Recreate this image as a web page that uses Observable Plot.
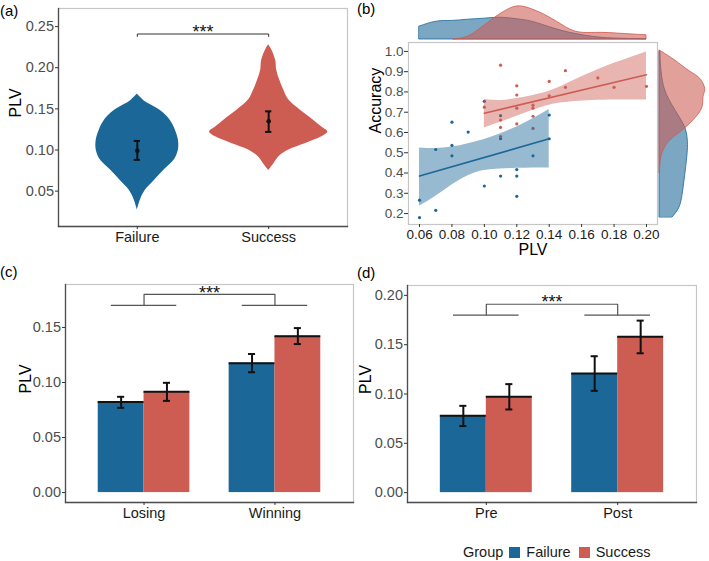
<!DOCTYPE html>
<html><head><meta charset="utf-8">
<script src="https://cdn.jsdelivr.net/npm/d3@7"></script>
<script src="https://cdn.jsdelivr.net/npm/@observablehq/plot@0.6"></script>
<style>
body{margin:0;background:#fff;font-family:"Liberation Sans",Arial,Helvetica,sans-serif;}
#root{position:relative;width:709px;height:561px;overflow:hidden;background:#fff;}
.tag{position:absolute;font-size:15px;line-height:15px;color:#000;}
.legend{position:absolute;display:flex;align-items:center;font-size:14.5px;color:#1a1a1a;line-height:15px;}
.sw{display:inline-block;width:11px;height:11px;margin:0 6px 0 8px;}
</style></head><body><div id="root"></div>
<script>
// ---------------- data ----------------
const groups = ["Failure", "Success"];
const groupColors = ["#1b6798", "#cd5c53"];

// (a) violins: PLV value and relative density (half-width)
const violinFailurePLV = [0.027, 0.039, 0.051, 0.063, 0.076, 0.088, 0.100, 0.112, 0.124, 0.136, 0.148, 0.160, 0.168];
const violinFailureDensity = [0, 3, 8, 17, 27, 37, 41, 41, 38, 33, 23, 6.7, 0];
const violinSuccessPLV = [0.075, 0.083, 0.0915, 0.100, 0.108, 0.116, 0.122, 0.128, 0.136, 0.148, 0.161, 0.173, 0.185, 0.197, 0.209, 0.222, 0.228];
const violinSuccessDensity = [0, 5, 10, 20, 37, 53, 59, 53, 45, 32, 20, 15, 11, 8, 7, 3, 0];
const aMean = [0.099, 0.135];
const aLow = [0.088, 0.122];
const aHigh = [0.111, 0.147];
const aBracketY = [0.238, 0.241];
const aStarY = 0.2433;

// (b) scatter
const bFailureX = [0.06, 0.06, 0.07, 0.07, 0.08, 0.08, 0.08, 0.09, 0.10, 0.10, 0.11, 0.11, 0.11, 0.12, 0.12, 0.12, 0.13, 0.14, 0.14];
const bFailureY = [0.266, 0.18, 0.216, 0.516, 0.651, 0.536, 0.485, 0.602, 0.754, 0.336, 0.683, 0.569, 0.385, 0.417, 0.385, 0.285, 0.485, 0.686, 0.569];
const bSuccessX = [0.10, 0.11, 0.11, 0.11, 0.11, 0.12, 0.12, 0.12, 0.12, 0.13, 0.13, 0.13, 0.13, 0.14, 0.14, 0.15, 0.15, 0.17, 0.18, 0.20];
const bSuccessY = [0.725, 0.932, 0.661, 0.625, 0.580, 0.83, 0.785, 0.72, 0.642, 0.735, 0.72, 0.68, 0.62, 0.852, 0.781, 0.905, 0.823, 0.869, 0.823, 0.828];
const bFitFailureX = [0.06, 0.14], bFitFailureY = [0.385, 0.569];
const bFitSuccessX = [0.10, 0.20], bFitSuccessY = [0.695, 0.885];
const bBandFailureX = [0.06, 0.07, 0.08, 0.09, 0.10, 0.11, 0.12, 0.13, 0.14];
const bBandFailureLo = [0.236, 0.285, 0.341, 0.387, 0.412, 0.420, 0.423, 0.425, 0.425];
const bBandFailureHi = [0.524, 0.521, 0.528, 0.545, 0.566, 0.594, 0.627, 0.668, 0.714];
const bBandSuccessX = [0.10, 0.11, 0.12, 0.13, 0.14, 0.15, 0.17, 0.20];
const bBandSuccessLo = [0.622, 0.65, 0.68, 0.71, 0.735, 0.748, 0.759, 0.76];
const bBandSuccessHi = [0.763, 0.758, 0.768, 0.783, 0.804, 0.837, 0.91, 0.997];
// top marginal density (PLV)
const mTopFailureX = [0.06, 0.0706, 0.08, 0.09, 0.10, 0.11, 0.12, 0.13, 0.143, 0.155, 0.167, 0.18, 0.20];
const mTopFailureD = [13, 18, 18.7, 20, 21, 22, 20.5, 17.7, 11, 6, 2.7, 1, 0.3];
const mTopSuccessX = [0.081, 0.0896, 0.0976, 0.1058, 0.112, 0.120, 0.1285, 0.1367, 0.145, 0.153, 0.161, 0.1717, 0.182, 0.192, 0.20];
const mTopSuccessD = [0, 2.7, 11, 21, 27.7, 33.3, 31, 25.3, 17.7, 10, 6.7, 6.7, 6, 5, 4.3];
// right marginal density (Accuracy)
const mRightFailureY = [0.182, 0.22, 0.27, 0.35, 0.43, 0.51, 0.56, 0.61, 0.66, 0.725, 0.807, 0.89, 0.95, 1.0];
const mRightFailureD = [13.3, 19, 22.3, 24.7, 26.7, 28.3, 28.3, 26.7, 22, 14, 5.7, 2.3, 1.2, 1];
const mRightSuccessY = [0.40, 0.46, 0.51, 0.56, 0.60, 0.635, 0.676, 0.725, 0.774, 0.807, 0.84, 0.873, 0.906, 0.955, 1.005];
const mRightSuccessD = [0.3, 1.3, 4, 10.7, 20.7, 29, 37, 43, 44, 45.7, 44, 39, 29, 15.7, 0];

// (c) bars
const cCategories = ["Losing", "Winning"];
const cFailureMean = [0.0822, 0.1175], cFailureLo = [0.077, 0.1093], cFailureHi = [0.087, 0.1259];
const cSuccessMean = [0.0915, 0.1421], cSuccessLo = [0.0833, 0.1349], cSuccessHi = [0.0997, 0.1494];
const cBracketY = [0.170, 0.180];
const cStarY = 0.1815;

// (d) bars
const dCategories = ["Pre", "Post"];
const dFailureMean = [0.0779, 0.1208], dFailureLo = [0.0675, 0.1032], dFailureHi = [0.088, 0.1383];
const dSuccessMean = [0.0971, 0.1581], dSuccessLo = [0.0843, 0.1413], dSuccessHi = [0.110, 0.1744];
const dBracketY = [0.180, 0.191];
const dStarY = 0.193;

// ---------------- helpers ----------------
const root = document.getElementById("root");
const FONT = '"Liberation Sans", Arial, Helvetica, sans-serif';
const svgStyle = `background:transparent;font-family:${FONT};overflow:visible;`;
const colorScale = {domain: groups, range: groupColors};
function place(el, left, top) {
  el.style.position = "absolute";
  el.style.left = left + "px";
  el.style.top = top + "px";
  root.appendChild(el);
}
function tag(text, left, top) {
  const d = document.createElement("div");
  d.className = "tag"; d.textContent = text;
  d.style.left = left + "px"; d.style.top = top + "px";
  root.appendChild(d);
}
const zip = (xs, ys, kx, ky, extra) => xs.map((v, i) => ({[kx]: v, [ky]: ys[i], ...extra}));
function frames(lightAll) {
  const m = [Plot.frame({stroke: "#c6c6c6", strokeWidth: 1.2})];
  if (!lightAll) {
    m.push(Plot.frame({anchor: "left", stroke: "#4d4d4d", strokeWidth: 1.3}));
    m.push(Plot.frame({anchor: "bottom", stroke: "#4d4d4d", strokeWidth: 1.3}));
  }
  return m;
}
function yTitle(text, dx, size = 16) {
  return Plot.text([text], {text: d => d, frameAnchor: "left", lineAnchor: "middle", rotate: -90, dx, fontSize: size, fill: "#000"});
}
function catAxis(cats) {
  return Plot.axisX(cats.map((c, i) => i + 1), {tickFormat: i => cats[i - 1], tickSize: 3, tickPadding: 2, fontSize: 14.5, fill: "#1a1a1a", stroke: "#333", label: null});
}
function numAxisY(ticks, dec, size = 14.5, tickSize = 3) {
  return Plot.axisY(ticks, {tickFormat: d3.format(`.${dec}f`), tickSize, tickPadding: 1.5, fontSize: size, fill: "#4d4d4d", stroke: "#333", label: null});
}

// ---------------- (a) violin ----------------
{
  const maxD = d3.max([...violinFailureDensity, ...violinSuccessDensity]);
  const k = 0.45 / maxD;
  const vio = [
    ...zip(violinFailurePLV, violinFailureDensity, "y", "d", {group: "Failure", pos: 1}),
    ...zip(violinSuccessPLV, violinSuccessDensity, "y", "d", {group: "Success", pos: 2})
  ];
  const summ = groups.map((g, i) => ({group: g, pos: i + 1, mean: aMean[i], lo: aLow[i], hi: aHigh[i]}));
  const cap = 0.024;
  const p = Plot.plot({
    width: 355, height: 262, marginLeft: 58, marginRight: 8, marginTop: 8, marginBottom: 36,
    style: svgStyle,
    x: {type: "linear", domain: [0.4, 2.6]},
    y: {domain: [0.007, 0.272]},
    color: colorScale,
    marks: [
      ...frames(false),
      Plot.areaX(vio, {y: "y", x1: d => d.pos - d.d * k, x2: d => d.pos + d.d * k, z: "group", fill: "group", curve: "catmull-rom"}),
      Plot.ruleX(summ, {x: "pos", y1: "lo", y2: "hi", stroke: "#111", strokeWidth: 2}),
      Plot.ruleY(summ, {y: "lo", x1: d => d.pos - cap, x2: d => d.pos + cap, stroke: "#111", strokeWidth: 2}),
      Plot.ruleY(summ, {y: "hi", x1: d => d.pos - cap, x2: d => d.pos + cap, stroke: "#111", strokeWidth: 2}),
      Plot.dot(summ, {x: "pos", y: "mean", r: 2.3, fill: "#111"}),
      Plot.line([{x: 1, y: aBracketY[0]}, {x: 1, y: aBracketY[1]}, {x: 2, y: aBracketY[1]}, {x: 2, y: aBracketY[0]}], {x: "x", y: "y", stroke: "#333", strokeWidth: 1}),
      Plot.text(["***"], {text: d => d, x: 1.5, y: aStarY, fontSize: 18, fill: "#111"}),
      numAxisY([0.05, 0.10, 0.15, 0.20, 0.25], 2),
      catAxis(groups),
      yTitle("PLV", -43)
    ]
  });
  place(p, 0, 0);
}

// ---------------- (b) scatter with marginals ----------------
const bxDomain = [0.0532, 0.2068], byDomain = [0.146, 1.044];
{
  const pts = [
    ...zip(bFailureX, bFailureY, "x", "y", {group: "Failure"}),
    ...zip(bSuccessX, bSuccessY, "x", "y", {group: "Success"})
  ];
  const bands = [
    ...bBandFailureX.map((x, i) => ({x, lo: bBandFailureLo[i], hi: bBandFailureHi[i], group: "Failure"})),
    ...bBandSuccessX.map((x, i) => ({x, lo: bBandSuccessLo[i], hi: bBandSuccessHi[i], group: "Success"}))
  ];
  const fits = [
    ...zip(bFitFailureX, bFitFailureY, "x", "y", {group: "Failure"}),
    ...zip(bFitSuccessX, bFitSuccessY, "x", "y", {group: "Success"})
  ];
  const p = Plot.plot({
    width: 354, height: 262, marginLeft: 53, marginRight: 52, marginTop: 42, marginBottom: 38,
    style: svgStyle,
    x: {domain: bxDomain},
    y: {domain: byDomain},
    color: colorScale,
    marks: [
      Plot.frame({stroke: "#c6c6c6", strokeWidth: 1.2}),
      Plot.dot(pts, {x: "x", y: "y", fill: "group", r: 1.6}),
      Plot.areaY(bands, {x: "x", y1: "lo", y2: "hi", z: "group", fill: "group", fillOpacity: 0.45, curve: "natural"}),
      Plot.line(fits, {x: "x", y: "y", z: "group", stroke: "group", strokeWidth: 1.6}),
      Plot.axisY([0.2, 0.3, 0.4, 0.5, 0.6, 0.7, 0.8, 0.9, 1.0], {tickFormat: d3.format(".1f"), tickSize: 4, tickPadding: 1, fontSize: 13.5, fill: "#4d4d4d", stroke: "#333", label: null}),
      Plot.axisX([0.06, 0.08, 0.10, 0.12, 0.14, 0.16, 0.18, 0.20], {tickFormat: d3.format(".2f"), tickSize: 3, tickPadding: 2, fontSize: 13.5, fill: "#1a1a1a", stroke: "#333", label: null}),
      yTitle("Accuracy", -33, 16),
      Plot.text(["PLV"], {text: d => d, frameAnchor: "bottom", lineAnchor: "middle", dy: 25, fontSize: 16, fill: "#000"})
    ]
  });
  place(p, 355, 0);

  const top = [
    ...zip(mTopFailureX, mTopFailureD, "x", "d", {group: "Failure"}),
    ...zip(mTopSuccessX, mTopSuccessD, "x", "d", {group: "Success"})
  ];
  const pt = Plot.plot({
    width: 249, height: 40, marginLeft: 0, marginRight: 0, marginTop: 6, marginBottom: 1,
    style: svgStyle,
    x: {domain: bxDomain, axis: null},
    y: {domain: [0, 33.3], axis: null},
    color: colorScale,
    marks: [
      Plot.areaY(top, {x: "x", y1: 0, y2: "d", z: "group", fill: "group", fillOpacity: 0.58, stroke: "group", strokeWidth: 0.8, curve: "natural"})
    ]
  });
  place(pt, 408, 0);

  const right = [
    ...zip(mRightFailureY, mRightFailureD, "y", "d", {group: "Failure"}),
    ...zip(mRightSuccessY, mRightSuccessD, "y", "d", {group: "Success"})
  ];
  const pr = Plot.plot({
    width: 50, height: 182, marginLeft: 0, marginRight: 4, marginTop: 0, marginBottom: 0,
    style: svgStyle,
    x: {domain: [0, 46], axis: null},
    y: {domain: byDomain, axis: null},
    color: colorScale,
    marks: [
      Plot.areaX(right, {y: "y", x1: 0, x2: "d", z: "group", fill: "group", fillOpacity: 0.58, stroke: "group", strokeWidth: 0.8, curve: "natural"})
    ]
  });
  place(pr, 659, 42);
}

// ---------------- (c) & (d) bars ----------------
function barPanel(cats, fM, fL, fH, sM, sL, sH, yDomain, yTicks, bracketY, starY, dims, left, top) {
  const rows = [];
  cats.forEach((c, i) => {
    rows.push({pos: i + 1, off: -1, group: "Failure", mean: fM[i], lo: fL[i], hi: fH[i]});
    rows.push({pos: i + 1, off: 1, group: "Success", mean: sM[i], lo: sL[i], hi: sH[i]});
  });
  const bw = 0.35, cap = 0.027;
  const cx = d => d.pos + d.off * bw / 2;
  const br = [
    {x: 1, y: bracketY[0]}, {x: 1, y: bracketY[1]}, {x: 2, y: bracketY[1]}, {x: 2, y: bracketY[0]}
  ];
  const lows = cats.map((c, i) => ({pos: i + 1, y: bracketY[0]}));
  const p = Plot.plot({
    ...dims,
    style: svgStyle,
    x: {type: "linear", domain: [0.4, 2.6]},
    y: {domain: yDomain},
    color: colorScale,
    marks: [
      ...frames(false),
      Plot.rectY(rows, {x1: d => cx(d) - bw / 2, x2: d => cx(d) + bw / 2, y1: 0, y2: "mean", fill: "group"}),
      Plot.ruleY(rows, {y: "mean", x1: d => cx(d) - bw / 2, x2: d => cx(d) + bw / 2, stroke: "#111", strokeWidth: 2}),
      Plot.ruleX(rows, {x: cx, y1: "lo", y2: "hi", stroke: "#111", strokeWidth: 2}),
      Plot.ruleY(rows, {y: "lo", x1: d => cx(d) - cap, x2: d => cx(d) + cap, stroke: "#111", strokeWidth: 2}),
      Plot.ruleY(rows, {y: "hi", x1: d => cx(d) - cap, x2: d => cx(d) + cap, stroke: "#111", strokeWidth: 2}),
      Plot.ruleY(lows, {y: "y", x1: d => d.pos - 0.25, x2: d => d.pos + 0.25, stroke: "#555", strokeWidth: 1.2}),
      Plot.line(br, {x: "x", y: "y", stroke: "#555", strokeWidth: 1.2}),
      Plot.text(["***"], {text: d => d, x: 1.5, y: starY, fontSize: 18, fill: "#111"}),
      numAxisY(yTicks, 2),
      catAxis(cats),
      yTitle("PLV", dims.marginLeft === 65 ? -40 : -42)
    ]
  });
  place(p, left, top);
}
barPanel(cCategories, cFailureMean, cFailureLo, cFailureHi, cSuccessMean, cSuccessLo, cSuccessHi,
  [-0.009, 0.189], [0, 0.05, 0.10, 0.15], cBracketY, cStarY,
  {width: 355, height: 270, marginLeft: 65, marginRight: 2, marginTop: 19, marginBottom: 33}, 0, 265);
barPanel(dCategories, dFailureMean, dFailureLo, dFailureHi, dSuccessMean, dSuccessLo, dSuccessHi,
  [-0.01, 0.21], [0, 0.05, 0.10, 0.15, 0.20], dBracketY, dStarY,
  {width: 354, height: 270, marginLeft: 52, marginRight: 13, marginTop: 20, marginBottom: 33}, 355, 265);

// ---------------- tags & legend ----------------
tag("(a)", 0, 3);
tag("(b)", 357, 1);
tag("(c)", 0, 264);
tag("(d)", 357, 265);
const lg = document.createElement("div");
lg.className = "legend";
lg.style.left = "463px"; lg.style.top = "545px";
const gt = document.createElement("span"); gt.textContent = "Group"; gt.style.marginRight = "-2px"; lg.appendChild(gt);
groups.forEach((g, i) => {
  const sw = document.createElement("span"); sw.className = "sw"; sw.style.background = groupColors[i];
  const t = document.createElement("span"); t.textContent = g;
  lg.appendChild(sw); lg.appendChild(t);
});
root.appendChild(lg);
</script></body></html>
